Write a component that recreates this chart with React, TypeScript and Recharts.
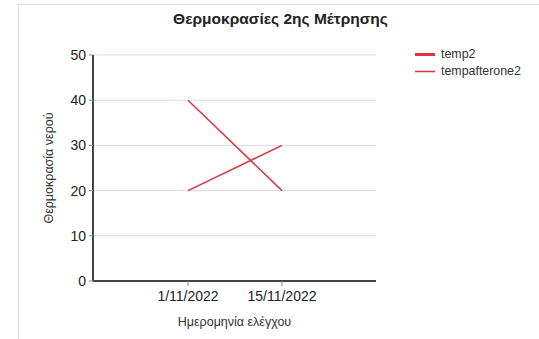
import React from "react";
import { LineChart, Line, XAxis, YAxis, CartesianGrid, Legend, Label } from "recharts";

const categories = ["1/11/2022", "15/11/2022"];
const temp2 = [40, 20];
const tempafterone2 = [20, 30];
const yTicks = [0, 10, 20, 30, 40, 50];

const data = categories.map((c, i) => ({ date: c, temp2: temp2[i], tempafterone2: tempafterone2[i] }));

const FONT = "'Liberation Sans', Arial, sans-serif";
const RED = "#dc3540";

const LegendContent = () => (
  <div style={{ fontFamily: FONT, fontSize: 12.4, color: "#333", lineHeight: "17px" }}>
    <div style={{ display: "flex", alignItems: "center" }}>
      <svg width={26} height={17}><line x1={0} y1={8.5} x2={20} y2={8.5} stroke={RED} strokeWidth={3} /></svg>
      <span>temp2</span>
    </div>
    <div style={{ display: "flex", alignItems: "center" }}>
      <svg width={26} height={17}><line x1={0} y1={8.5} x2={20} y2={8.5} stroke={RED} strokeWidth={1.5} /></svg>
      <span>tempafterone2</span>
    </div>
  </div>
);

export default function App() {
  return (
    <div style={{ position: "absolute", left: 0, top: 0, width: 539, height: 339, background: "#fff", overflow: "hidden" }}>
      <div style={{ position: "absolute", left: 18, top: 4, width: 600, height: 400, borderLeft: "1px solid #ddd", borderTop: "1px solid #ddd" }} />
      <div style={{ position: "absolute", left: 0, top: 10, width: 561, textAlign: "center", fontFamily: FONT, fontSize: 15.5, fontWeight: "bold", color: "#222" }}>
        Θερμοκρασίες 2ης Μέτρησης
      </div>
      <div style={{ position: "absolute", left: 0, top: 0 }}>
        <LineChart width={539} height={339} data={data} margin={{ top: 55, right: 43, bottom: 0, left: 0 }}>
          <CartesianGrid vertical={false} stroke="#dedede" strokeWidth={1} />
          <XAxis
            dataKey="date"
            padding={{ left: 95, right: 94 }}
            axisLine={{ stroke: "#444", strokeWidth: 2 }}
            tickLine={{ stroke: "#888" }}
            tickSize={5}
            tick={{ fill: "#222", fontSize: 14, fontFamily: FONT }}
            tickMargin={5}
            height={58}
            interval={0}
          >
            <Label value="Ημερομηνία ελέγχου" position="insideTop" offset={36} style={{ fill: "#333", fontSize: 12.5, fontFamily: FONT }} />
          </XAxis>
          <YAxis
            domain={[0, 50]}
            ticks={yTicks}
            interval={0}
            axisLine={{ stroke: "#444", strokeWidth: 2 }}
            tickLine={{ stroke: "#888" }}
            tickSize={4}
            tickMargin={3}
            tick={{ fill: "#222", fontSize: 14, fontFamily: FONT }}
            width={93}
          >
            <Label value="Θερμοκρασία νερού" angle={-90} position="insideLeft" offset={49} style={{ textAnchor: "middle", fill: "#333", fontSize: 12.5, fontFamily: FONT }} />
          </YAxis>
          <Legend layout="vertical" align="right" verticalAlign="top" content={<LegendContent />} wrapperStyle={{ left: 415, top: 46, width: 120 }} />
          <Line dataKey="temp2" stroke={RED} strokeWidth={1.5} dot={false} isAnimationActive={false} />
          <Line dataKey="tempafterone2" stroke={RED} strokeWidth={1.5} dot={false} isAnimationActive={false} />
        </LineChart>
      </div>
    </div>
  );
}
